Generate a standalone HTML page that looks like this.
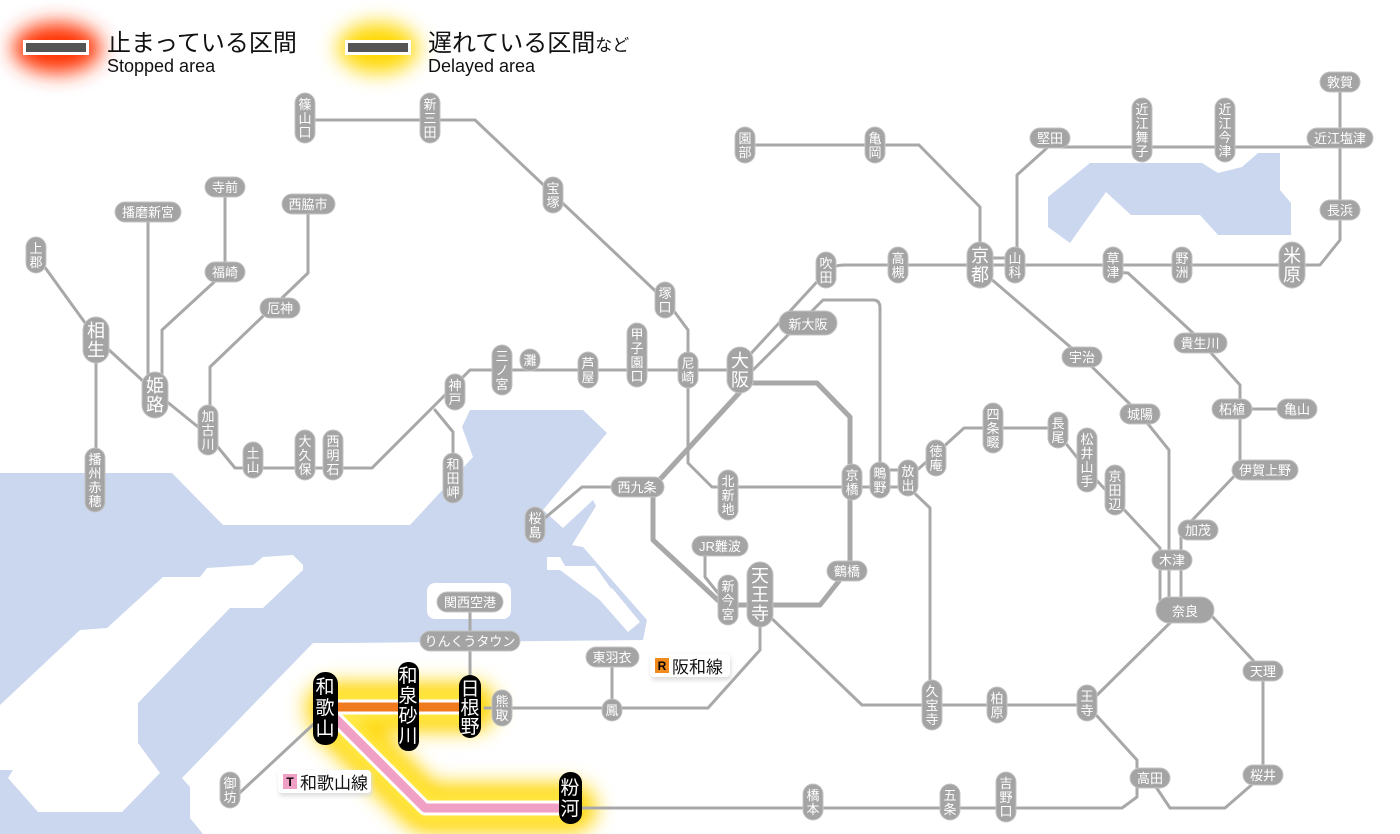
<!DOCTYPE html>
<html><head><meta charset="utf-8"><style>
html,body{margin:0;padding:0;background:#fff}
svg{display:block}
.l{fill:none;stroke:#a8a8a8;stroke-width:3;stroke-linejoin:round;stroke-linecap:round}
.p{fill:#a4a4a4;stroke:#c4c4c4;stroke-width:1}
.t{fill:#fff;font-family:"Liberation Sans","Noto Sans CJK JP",sans-serif;font-size:13px;text-anchor:middle}
.b{font-size:18px}
.k{fill:#fff;font-family:"Liberation Sans","Noto Sans CJK JP",sans-serif;font-size:19px;text-anchor:middle}
.j{font-family:"Liberation Sans","Noto Sans CJK JP",sans-serif;fill:#111}
</style></head><body>
<svg width="1400" height="834" viewBox="0 0 1400 834" xmlns="http://www.w3.org/2000/svg">
<defs>
<filter id="g" x="-50%" y="-50%" width="200%" height="200%"><feGaussianBlur stdDeviation="10"/></filter>
<filter id="g2" x="-50%" y="-50%" width="200%" height="200%"><feGaussianBlur stdDeviation="7"/></filter>
<filter id="sh" x="-20%" y="-40%" width="140%" height="180%"><feGaussianBlur stdDeviation="2"/></filter>
</defs>
<!-- water -->
<g fill="#cbd7ee">
<polygon points="0,473 172,473 223,525 410,525 473,457 462,427 470,410 583,410 607,433 543,510 563,528 593,500 596,506 572,545 583,547 647,620 643,640 340,643 313,643 182,778 190,787 190,818 203,834 0,834"/>
<polygon points="1090,163 1202,163 1218,173 1242,167 1258,153 1280,153 1280,190 1291,203 1291,235 1218,235 1200,215 1131,215 1106,192 1070,243 1048,227 1048,197"/>
</g>
<g fill="#fff">
<polygon points="303,565 293,555 263,557 253,565 207,568 200,577 163,577 107,628 80,630 0,705 0,770 13,770 8,778 38,812 122,812 160,773 138,743 138,703 230,608 263,608 303,570"/>
<rect x="427" y="583" width="84" height="36" rx="8"/>
<polygon points="547,557 560,557 565,566 595,566 612,590 600,600 560,570 547,570"/>
<polygon points="598,598 612,588 640,622 628,632"/>
</g>
<!-- legend -->
<ellipse cx="57" cy="48" rx="44" ry="25" fill="#ff3000" filter="url(#g)"/>
<rect x="23" y="40" width="66" height="15" fill="#fff"/>
<rect x="26" y="43" width="60" height="9" fill="#555"/>
<text x="107" y="51" class="j" font-size="24">止まっている区間</text>
<text x="107" y="72" class="j" font-size="18">Stopped area</text>
<ellipse cx="378" cy="48" rx="40" ry="25" fill="#ffd800" filter="url(#g)"/>
<rect x="345" y="40" width="66" height="15" fill="#fff"/>
<rect x="348" y="43" width="60" height="9" fill="#555"/>
<text x="428" y="51" class="j" font-size="24">遅れている区間<tspan font-size="17">など</tspan></text>
<text x="428" y="72" class="j" font-size="18">Delayed area</text>
<!-- glows -->
<g filter="url(#g)" stroke="#ffd400" fill="none" stroke-linejoin="round" stroke-width="48" stroke-linecap="round">
<path d="M330,707 H472"/>
<path d="M335,720 L425,808 H572"/>
</g>
<g filter="url(#g2)" stroke="#ffe84a" fill="none" stroke-width="30" stroke-linejoin="round">
<path d="M330,707 H472"/><path d="M335,720 L425,808 H572"/>
</g>
<!-- lines -->
<g class="l">
<path d="M305,120 H475 L668,303 L688,330 V463 L712,487 H908"/>
<path d="M36,255 L96,338 L155,392 L208,435 L235,468 H372 L450,390 L470,370 H740"/>
<path d="M745,360 L826,272 Q832,265 845,265 H1320 L1340,240 V82"/>
<path d="M745,372 L753,370 L823,300 H873 Q880,300 880,308 V480"/>
<path d="M655,487 H582 L540,522"/>
<path d="M705,552 V577 L722,598"/>
<path d="M723,605 H762"/>
<path d="M765,612 L862,705 H1087 L1181,612"/>
<path d="M1087,705 L1137,760 V797 L1122,808 H580"/>
<path d="M1150,778 L1170,808 H1225 L1263,775 V671 L1209,613"/>
<path d="M760,610 V650 L708,708 H485"/>
<path d="M470,700 V602"/>
<path d="M612,708 V657"/>
<path d="M318,720 L232,800"/>
<path d="M908,487 L930,508 V705"/>
<path d="M908,478 L940,450 L964,428 H1050 L1060,436 L1087,470 L1115,500 L1160,548 V610"/>
<path d="M990,278 L1082,357 L1140,414 L1169,450 V610"/>
<path d="M1181,610 V532 L1240,470 V409 H1297"/>
<path d="M1113,272 L1128,273 L1193,333 L1240,385 V409"/>
<path d="M1017,265 V175 L1048,147 H1340"/>
<path d="M745,145 H919 L980,207 V265"/>
<path d="M148,212 V395"/>
<path d="M225,187 V272 L162,330 V395"/>
<path d="M308,204 V273 L210,367 V430"/>
<path d="M96,340 V480"/>
<path d="M435,410 L453,432 V478"/>
<path d="M980,258 H1015"/>
<path d="M880,470 H908"/>
</g>
<path class="l" style="stroke-width:5" d="M740,383 H817 L850,417 V567 L820,605 H723 L653,540 V487 L740,392"/>
<!-- orange & pink -->
<path d="M335,707 H468" stroke="#fff" stroke-width="15" fill="none"/>
<path d="M335,707 H468" stroke="#f07a1e" stroke-width="9" fill="none"/>
<path d="M335,718 L425,808 H568" stroke="#fff" stroke-width="15" fill="none" stroke-linejoin="round"/>
<path d="M335,718 L425,808 H568" stroke="#f0a0c4" stroke-width="9" fill="none" stroke-linejoin="round"/>
<!-- vertical stations -->
<g>
<rect class="p" x="295" y="93" width="20" height="50" rx="10"/><text class="t" x="305" y="109">篠<tspan x="305" dy="14">山</tspan><tspan x="305" dy="14">口</tspan></text>
<rect class="p" x="420" y="93" width="20" height="50" rx="10"/><text class="t" x="430" y="109">新<tspan x="430" dy="14">三</tspan><tspan x="430" dy="14">田</tspan></text>
<rect class="p" x="543" y="177" width="20" height="36" rx="10"/><text class="t" x="553" y="193">宝<tspan x="553" dy="14">塚</tspan></text>
<rect class="p" x="655" y="282" width="20" height="36" rx="10"/><text class="t" x="665" y="298">塚<tspan x="665" dy="14">口</tspan></text>
<rect class="p" x="735" y="127" width="20" height="36" rx="10"/><text class="t" x="745" y="143">園<tspan x="745" dy="14">部</tspan></text>
<rect class="p" x="865" y="127" width="20" height="36" rx="10"/><text class="t" x="875" y="143">亀<tspan x="875" dy="14">岡</tspan></text>
<rect class="p" x="1132" y="98" width="20" height="64" rx="10"/><text class="t" x="1142" y="114">近<tspan x="1142" dy="14">江</tspan><tspan x="1142" dy="14">舞</tspan><tspan x="1142" dy="14">子</tspan></text>
<rect class="p" x="1215" y="98" width="20" height="64" rx="10"/><text class="t" x="1225" y="114">近<tspan x="1225" dy="14">江</tspan><tspan x="1225" dy="14">今</tspan><tspan x="1225" dy="14">津</tspan></text>
<rect class="p" x="26" y="237" width="20" height="36" rx="10"/><text class="t" x="36" y="253">上<tspan x="36" dy="14">郡</tspan></text>
<rect class="p" x="816" y="252" width="20" height="36" rx="10"/><text class="t" x="826" y="268">吹<tspan x="826" dy="14">田</tspan></text>
<rect class="p" x="888" y="247" width="20" height="36" rx="10"/><text class="t" x="898" y="263">高<tspan x="898" dy="14">槻</tspan></text>
<rect class="p" x="1005" y="247" width="20" height="36" rx="10"/><text class="t" x="1015" y="263">山<tspan x="1015" dy="14">科</tspan></text>
<rect class="p" x="1103" y="247" width="20" height="36" rx="10"/><text class="t" x="1113" y="263">草<tspan x="1113" dy="14">津</tspan></text>
<rect class="p" x="1172" y="247" width="20" height="36" rx="10"/><text class="t" x="1182" y="263">野<tspan x="1182" dy="14">洲</tspan></text>
<rect class="p" x="492" y="345" width="20" height="50" rx="10"/><text class="t" x="502" y="361">三<tspan x="502" dy="14">ノ</tspan><tspan x="502" dy="14">宮</tspan></text>
<rect class="p" x="520" y="349" width="20" height="22" rx="10"/><text class="t" x="530" y="365">灘</text>
<rect class="p" x="578" y="352" width="20" height="36" rx="10"/><text class="t" x="588" y="368">芦<tspan x="588" dy="14">屋</tspan></text>
<rect class="p" x="627" y="323" width="20" height="64" rx="10"/><text class="t" x="637" y="339">甲<tspan x="637" dy="14">子</tspan><tspan x="637" dy="14">園</tspan><tspan x="637" dy="14">口</tspan></text>
<rect class="p" x="678" y="352" width="20" height="36" rx="10"/><text class="t" x="688" y="368">尼<tspan x="688" dy="14">崎</tspan></text>
<rect class="p" x="445" y="374" width="20" height="36" rx="10"/><text class="t" x="455" y="390">神<tspan x="455" dy="14">戸</tspan></text>
<rect class="p" x="198" y="405" width="20" height="50" rx="10"/><text class="t" x="208" y="421">加<tspan x="208" dy="14">古</tspan><tspan x="208" dy="14">川</tspan></text>
<rect class="p" x="983" y="403" width="20" height="50" rx="10"/><text class="t" x="993" y="419">四<tspan x="993" dy="14">条</tspan><tspan x="993" dy="14">畷</tspan></text>
<rect class="p" x="1048" y="412" width="20" height="36" rx="10"/><text class="t" x="1058" y="428">長<tspan x="1058" dy="14">尾</tspan></text>
<rect class="p" x="1077" y="428" width="20" height="64" rx="10"/><text class="t" x="1087" y="444">松<tspan x="1087" dy="14">井</tspan><tspan x="1087" dy="14">山</tspan><tspan x="1087" dy="14">手</tspan></text>
<rect class="p" x="1105" y="465" width="20" height="50" rx="10"/><text class="t" x="1115" y="481">京<tspan x="1115" dy="14">田</tspan><tspan x="1115" dy="14">辺</tspan></text>
<rect class="p" x="926" y="440" width="20" height="36" rx="10"/><text class="t" x="936" y="456">徳<tspan x="936" dy="14">庵</tspan></text>
<rect class="p" x="243" y="442" width="20" height="36" rx="10"/><text class="t" x="253" y="458">土<tspan x="253" dy="14">山</tspan></text>
<rect class="p" x="295" y="430" width="20" height="50" rx="10"/><text class="t" x="305" y="446">大<tspan x="305" dy="14">久</tspan><tspan x="305" dy="14">保</tspan></text>
<rect class="p" x="323" y="430" width="20" height="50" rx="10"/><text class="t" x="333" y="446">西<tspan x="333" dy="14">明</tspan><tspan x="333" dy="14">石</tspan></text>
<rect class="p" x="443" y="453" width="20" height="50" rx="10"/><text class="t" x="453" y="469">和<tspan x="453" dy="14">田</tspan><tspan x="453" dy="14">岬</tspan></text>
<rect class="p" x="85" y="448" width="20" height="64" rx="10"/><text class="t" x="95" y="464">播<tspan x="95" dy="14">州</tspan><tspan x="95" dy="14">赤</tspan><tspan x="95" dy="14">穂</tspan></text>
<rect class="p" x="718" y="470" width="20" height="50" rx="10"/><text class="t" x="728" y="486">北<tspan x="728" dy="14">新</tspan><tspan x="728" dy="14">地</tspan></text>
<rect class="p" x="842" y="464" width="20" height="36" rx="10"/><text class="t" x="852" y="480">京<tspan x="852" dy="14">橋</tspan></text>
<rect class="p" x="870" y="462" width="20" height="36" rx="10"/><text class="t" x="880" y="478">鴫<tspan x="880" dy="14">野</tspan></text>
<rect class="p" x="898" y="460" width="20" height="36" rx="10"/><text class="t" x="908" y="476">放<tspan x="908" dy="14">出</tspan></text>
<rect class="p" x="525" y="507" width="20" height="36" rx="10"/><text class="t" x="535" y="523">桜<tspan x="535" dy="14">島</tspan></text>
<rect class="p" x="718" y="575" width="20" height="50" rx="10"/><text class="t" x="728" y="591">新<tspan x="728" dy="14">今</tspan><tspan x="728" dy="14">宮</tspan></text>
<rect class="p" x="492" y="690" width="20" height="36" rx="10"/><text class="t" x="502" y="706">熊<tspan x="502" dy="14">取</tspan></text>
<rect class="p" x="602" y="699" width="20" height="22" rx="10"/><text class="t" x="612" y="715">鳳</text>
<rect class="p" x="922" y="680" width="20" height="50" rx="10"/><text class="t" x="932" y="696">久<tspan x="932" dy="14">宝</tspan><tspan x="932" dy="14">寺</tspan></text>
<rect class="p" x="987" y="687" width="20" height="36" rx="10"/><text class="t" x="997" y="703">柏<tspan x="997" dy="14">原</tspan></text>
<rect class="p" x="1077" y="685" width="20" height="36" rx="10"/><text class="t" x="1087" y="701">王<tspan x="1087" dy="14">寺</tspan></text>
<rect class="p" x="220" y="772" width="20" height="36" rx="10"/><text class="t" x="230" y="788">御<tspan x="230" dy="14">坊</tspan></text>
<rect class="p" x="803" y="784" width="20" height="36" rx="10"/><text class="t" x="813" y="800">橋<tspan x="813" dy="14">本</tspan></text>
<rect class="p" x="940" y="784" width="20" height="36" rx="10"/><text class="t" x="950" y="800">五<tspan x="950" dy="14">条</tspan></text>
<rect class="p" x="996" y="772" width="20" height="50" rx="10"/><text class="t" x="1006" y="788">吉<tspan x="1006" dy="14">野</tspan><tspan x="1006" dy="14">口</tspan></text>
<!-- big -->
<rect class="p" x="967" y="242" width="26" height="46" rx="13"/><text class="t b" x="980" y="262">京<tspan x="980" dy="19">都</tspan></text>
<rect class="p" x="1279" y="242" width="26" height="46" rx="13"/><text class="t b" x="1292" y="262">米<tspan x="1292" dy="19">原</tspan></text>
<rect class="p" x="83" y="317" width="26" height="46" rx="13"/><text class="t b" x="96" y="337">相<tspan x="96" dy="19">生</tspan></text>
<rect class="p" x="727" y="347" width="26" height="46" rx="13"/><text class="t b" x="740" y="367">大<tspan x="740" dy="19">阪</tspan></text>
<rect class="p" x="142" y="372" width="26" height="46" rx="13"/><text class="t b" x="155" y="392">姫<tspan x="155" dy="19">路</tspan></text>
<rect class="p" x="747" y="562" width="26" height="65" rx="13"/><text class="t b" x="760" y="582">天<tspan x="760" dy="19">王</tspan><tspan x="760" dy="19">寺</tspan></text>
</g>
<!-- horizontal stations -->
<g>
<rect class="p" x="1320" y="72" width="40" height="20" rx="10"/><text class="t" x="1340" y="87">敦賀</text>
<rect class="p" x="1030" y="128" width="40" height="20" rx="10"/><text class="t" x="1050" y="143">堅田</text>
<rect class="p" x="1307" y="128" width="66" height="20" rx="10"/><text class="t" x="1340" y="143">近江塩津</text>
<rect class="p" x="1320" y="200" width="40" height="20" rx="10"/><text class="t" x="1340" y="215">長浜</text>
<rect class="p" x="205" y="177" width="40" height="20" rx="10"/><text class="t" x="225" y="192">寺前</text>
<rect class="p" x="115" y="202" width="66" height="20" rx="10"/><text class="t" x="148" y="217">播磨新宮</text>
<rect class="p" x="282" y="194" width="53" height="20" rx="10"/><text class="t" x="308" y="209">西脇市</text>
<rect class="p" x="205" y="262" width="40" height="20" rx="10"/><text class="t" x="225" y="277">福崎</text>
<rect class="p" x="260" y="298" width="40" height="20" rx="10"/><text class="t" x="280" y="313">厄神</text>
<rect class="p" x="1062" y="347" width="40" height="20" rx="10"/><text class="t" x="1082" y="362">宇治</text>
<rect class="p" x="1174" y="333" width="53" height="20" rx="10"/><text class="t" x="1200" y="348">貴生川</text>
<rect class="p" x="1120" y="404" width="40" height="20" rx="10"/><text class="t" x="1140" y="419">城陽</text>
<rect class="p" x="1212" y="399" width="40" height="20" rx="10"/><text class="t" x="1232" y="414">柘植</text>
<rect class="p" x="1277" y="399" width="40" height="20" rx="10"/><text class="t" x="1297" y="414">亀山</text>
<rect class="p" x="611" y="477" width="53" height="20" rx="10"/><text class="t" x="637" y="492">西九条</text>
<rect class="p" x="1232" y="460" width="66" height="20" rx="10"/><text class="t" x="1265" y="475">伊賀上野</text>
<rect class="p" x="1178" y="520" width="40" height="20" rx="10"/><text class="t" x="1198" y="535">加茂</text>
<rect class="p" x="692" y="536" width="56" height="20" rx="10"/><text class="t" x="720" y="551">JR難波</text>
<rect class="p" x="827" y="561" width="40" height="20" rx="10"/><text class="t" x="847" y="576">鶴橋</text>
<rect class="p" x="1152" y="550" width="40" height="20" rx="10"/><text class="t" x="1172" y="565">木津</text>
<rect class="p" x="437" y="592" width="66" height="20" rx="10"/><text class="t" x="470" y="607">関西空港</text>
<rect class="p" x="420" y="631" width="100" height="20" rx="10"/><text class="t" x="470" y="646">りんくうタウン</text>
<rect class="p" x="586" y="647" width="53" height="20" rx="10"/><text class="t" x="612" y="662">東羽衣</text>
<rect class="p" x="1243" y="661" width="40" height="20" rx="10"/><text class="t" x="1263" y="676">天理</text>
<rect class="p" x="1130" y="768" width="40" height="20" rx="10"/><text class="t" x="1150" y="783">高田</text>
<rect class="p" x="1243" y="765" width="40" height="20" rx="10"/><text class="t" x="1263" y="780">桜井</text>
<rect class="p" x="779" y="311" width="58" height="24" rx="12"/><text class="t" x="808" y="329" font-size="16">新大阪</text>
<rect class="p" x="1156" y="597" width="58" height="26" rx="13"/><text class="t" x="1185" y="616" font-size="17">奈良</text>
</g>
<!-- black stations -->
<rect x="313" y="672" width="25" height="73" rx="12" fill="#000"/><text class="k" x="325" y="693" font-size="20">和<tspan x="325" dy="21">歌</tspan><tspan x="325" dy="21">山</tspan></text>
<rect x="398" y="662" width="21" height="89" rx="10" fill="#000"/><text class="k" x="408" y="682" font-size="18">和<tspan x="408" dy="20">泉</tspan><tspan x="408" dy="20">砂</tspan><tspan x="408" dy="20">川</tspan></text>
<rect x="459" y="675" width="22" height="63" rx="11" fill="#000"/><text class="k" x="470" y="695" font-size="18">日<tspan x="470" dy="19">根</tspan><tspan x="470" dy="19">野</tspan></text>
<rect x="559" y="772" width="23" height="52" rx="11" fill="#000"/><text class="k" x="570" y="794" font-size="20">粉<tspan x="570" dy="21">河</tspan></text>
<!-- line labels -->
<rect x="651" y="656" width="80" height="24" rx="4" fill="#ddd" filter="url(#sh)"/>
<rect x="650" y="654" width="80" height="23" rx="4" fill="#fff"/>
<rect x="655" y="658" width="14" height="15" fill="#f08a1c"/><text x="662" y="670" font-family="Liberation Sans,sans-serif" font-weight="bold" font-size="12" text-anchor="middle" fill="#000">R</text>
<text x="672" y="673" class="j" font-size="17">阪和線</text>
<rect x="279" y="772" width="93" height="24" rx="4" fill="#ddd" filter="url(#sh)"/>
<rect x="278" y="770" width="93" height="23" rx="4" fill="#fff"/>
<rect x="283" y="774" width="14" height="15" fill="#f0a0c4"/><text x="290" y="786" font-family="Liberation Sans,sans-serif" font-weight="bold" font-size="12" text-anchor="middle" fill="#000">T</text>
<text x="300" y="789" class="j" font-size="17">和歌山線</text>
</svg>
</body></html>
